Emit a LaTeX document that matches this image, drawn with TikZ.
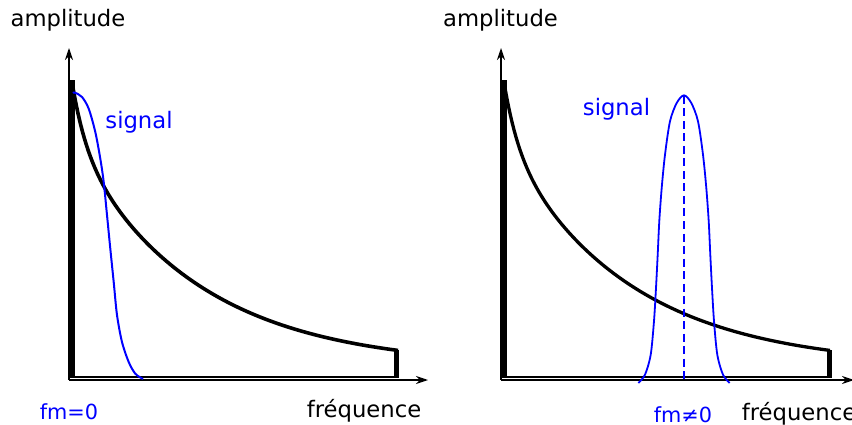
\documentclass[tikz,border=0pt]{standalone}
\usepackage{fontspec}
\setmainfont{DejaVu Sans}
\usetikzlibrary{arrows.meta}
\tikzset{
  axis/.style={line width=1.3pt, -{Stealth[length=12pt, width=8pt, inset=4pt]}},
  wall/.style={line width=5.5pt},
  floor/.style={line width=2pt},
  noise/.style={line width=3.6pt, line join=round},
  signal/.style={draw=blue, line width=2pt},
  centre/.style={draw=blue, line width=1.8pt, dash pattern=on 8pt off 4.5pt},
  title/.style={font=\fontsize{22.7}{27}\selectfont, anchor=base},
  freq/.style={font=\fontsize{20.8}{24}\selectfont, text=blue, anchor=base, inner sep=0pt},
}
% decaying noise floor, height above the floor line
\newcommand{\noisecurve}[1]{225*exp(-(#1)/125) + 60*exp(-(#1)/14) + 10}

\begin{document}
\begin{tikzpicture}[x=1pt, y=-1pt]
  \useasboundingbox (0,0) rectangle (852,425);

  % Left panel
  \coordinate (oL) at (69,380);
  \coordinate (yL) at (69,48);
  \coordinate (xL) at (428,380);
  \draw[axis] (oL) -- (yL);
  \draw[axis] (oL) -- (xL);

  \coordinate (topL) at (72,80);
  \coordinate (footL) at (72,378);
  \coordinate (endL) at (396.5,350);
  \coordinate (cornerL) at (396.5,378);
  \draw[wall] (footL) -- (topL);
  \draw[wall, line width=5pt] (endL) -- (cornerL);
  \draw[floor] (72,377) -- (396.5,377);
  \draw[noise] plot[domain=0:326, samples=160] ({72+\x}, {377-(\noisecurve{\x})});

  \draw[signal] plot[smooth] coordinates {(73,93) (75,92.7) (82,97) (88.7,108.7)
    (95.3,132) (100.3,158.7) (103.7,182) (107,215) (110.3,248.7) (113.7,282)
    (117,315) (122,342) (128.7,362) (135.3,373.7) (143,379)};

  \node[title] (ampL) at (68,27) {amplitude};
  \node[title, text=blue] (sigL) at (139,128.5) {signal};
  \node[title] (freqL) at (364,417) {fréquence};
  \node[freq] (fmL) at (69,419) {fm=0};

  % Right panel
  \coordinate (oR) at (501,380);
  \coordinate (yR) at (501,48);
  \coordinate (xR) at (854,380);
  \draw[axis] (oR) -- (yR);
  \draw[axis] (oR) -- (xR);

  \coordinate (topR) at (504,80);
  \coordinate (footR) at (504,378);
  \coordinate (endR) at (829.7,350);
  \coordinate (cornerR) at (829.7,378);
  \draw[wall] (footR) -- (topR);
  \draw[wall, line width=4.5pt] (endR) -- (cornerR);
  \draw[floor] (504,377) -- (829.7,377);
  \draw[noise, line width=3.3pt] plot[domain=0:326, samples=160] ({504+\x}, {377-(\noisecurve{\x})});

  \draw[signal, line width=1.8pt] plot[smooth] coordinates {(638.3,383)
    (645,374.7) (650.7,354.7) (654,321) (656,288) (657.7,254.7) (659.3,221)
    (661.7,188) (665,154.7) (670,121.3) (676.7,103) (684,95.3) (691.3,103)
    (698,121.3) (703,154.7) (706.3,188) (708.7,221) (710.3,254.7) (712,288)
    (714,321) (717.3,354.7) (723,374.7) (729.7,383)};
  \coordinate (peak) at (684,96);
  \coordinate (fm) at (684,381);
  \draw[centre] (peak) -- (fm);

  \node[title] (ampR) at (500.5,27) {amplitude};
  \node[title, text=blue] (sigR) at (616.5,116) {signal};
  \node[title] (freqR) at (799,420.5) {fréquence};
  \node[freq] (fmR) at (683,422) {fm≠0};
\end{tikzpicture}
\end{document}
